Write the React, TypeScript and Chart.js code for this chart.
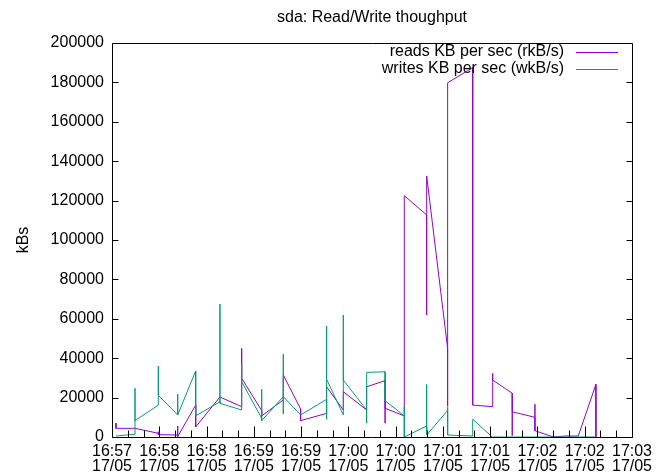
import { useEffect, useRef } from "react";
import { Chart, registerables } from "chart.js";

Chart.register(...registerables);

const TITLE = "sda: Read/Write thoughput";
const Y_TITLE = "kBs";
const READ_LABEL = "reads KB per sec (rkB/s)";
const WRITE_LABEL = "writes KB per sec (wkB/s)";
const READ_COLOR = "#9400d3";
const WRITE_COLOR = "#009e73";
const FONT = '"Liberation Sans", Arial, sans-serif';

// x axis: seconds from the first major tick, major tick every 30 s
const X_MAX = 330;
const timeLabels = ["16:57", "16:58", "16:58", "16:59", "16:59", "17:00", "17:00", "17:01", "17:01", "17:02", "17:02", "17:03"];
const dateLabels = ["17/05", "17/05", "17/05", "17/05", "17/05", "17/05", "17/05", "17/05", "17/05", "17/05", "17/05", "17/05"];
const Y_MAX = 200000;
const Y_STEP = 20000;

const readSeconds = [
  2.5, 2.5, 14.6, 29.4, 29.4, 29.4, 41.7, 41.7, 41.7, 53.1, 53.1, 68.5, 82.3, 82.3, 82.3,
  95.0, 95.0, 108.7, 108.7, 119.7, 119.7, 136.2, 136.2, 146.8, 146.8, 161.6, 161.6,
  173.3, 173.3, 173.3, 185.5, 185.5, 199.7, 199.7, 199.7, 213.0, 213.0, 213.0, 228.9, 228.9,
  241.6, 241.6, 241.6, 254.0, 254.0, 254.0, 268.4, 268.4, 268.4, 280.1, 288.1, 295.9, 307.1, 307.1,
];
const readValues = [
  7000, 4400, 4400, 1900, 2700, 1200, 1000, 5600, 200, 16200, 5100, 20300, 15400, 45000, 29800,
  13400, 10700, 18800, 31500, 14200, 8300, 12000, 25500, 13700, 23000, 13700, 25500,
  28600, 7000, 14600, 10700, 122500, 112700, 61900, 132500, 45000, 15700, 179800, 187500, 16200,
  15400, 32300, 28900, 22200, 700, 12800, 10000, 16600, 3200, 0, 500, 500, 26700, 0,
];

const writeSeconds = [
  2.5, 14.6, 14.6, 14.6, 29.4, 29.4, 29.4, 41.7, 41.7, 41.7, 53.1, 53.1, 68.5, 68.5, 68.5,
  82.3, 82.3, 82.3, 95.0, 95.0, 95.0, 108.7, 108.7, 108.7, 108.7, 119.7, 136.2, 136.2, 136.2, 136.2,
  146.8, 146.8, 146.8, 161.6, 161.6, 161.6, 173.3, 173.3, 185.5, 185.5, 185.5, 199.7, 199.7, 199.7,
  213.0, 213.0, 213.0, 228.9, 228.9, 241.4, 307.1,
];
const writeValues = [
  500, 1400, 24700, 8300, 16200, 36000, 21200, 11200, 21800, 11200, 33500, 10700, 17900, 67500, 17100,
  13700, 37400, 28100, 9500, 24200, 8300, 20500, 42100, 11700, 20500, 11200, 19100, 56300, 9000, 29300,
  11200, 61900, 28900, 13700, 7000, 32800, 33100, 18400, 10700, 15400, 0, 5600, 26700, 1000,
  13500, 15400, 1000, 500, 9000, 0, 0,
];

const decor = {
  id: "gnuplotDecor",
  afterDatasetsDraw(chart: any) {
    const { ctx, chartArea: a, scales } = chart;
    const xs = scales.x;
    const ys = scales.y;
    ctx.save();
    ctx.strokeStyle = "#000";
    ctx.lineWidth = 1;
    const L = Math.round(a.left) + 0.5;
    const R = Math.round(a.right) + 0.5;
    const T = Math.round(a.top) + 0.5;
    const B = Math.round(a.bottom) + 0.5;
    ctx.beginPath();
    ctx.rect(L, T, R - L, B - T);
    for (let s = 0; s <= X_MAX; s += 10) {
      const px = Math.round(xs.getPixelForValue(s)) + 0.5;
      const len = s % 30 === 0 ? 11 : 7;
      ctx.moveTo(px, B);
      ctx.lineTo(px, B - len);
    }
    for (let v = 0; v <= Y_MAX; v += Y_STEP) {
      const py = Math.round(ys.getPixelForValue(v)) + 0.5;
      ctx.moveTo(L, py);
      ctx.lineTo(L + 6, py);
      ctx.moveTo(R, py);
      ctx.lineTo(R - 6, py);
    }
    ctx.stroke();
    ctx.restore();
  },
  afterDraw(chart: any) {
    const { ctx, chartArea: a } = chart;
    ctx.save();
    ctx.fillStyle = "#000";
    ctx.font = `16px ${FONT}`;
    ctx.textBaseline = "middle";
    ctx.textAlign = "center";
    ctx.fillText(TITLE, (a.left + a.right) / 2, 18);
    ctx.save();
    ctx.translate(24, (a.top + a.bottom) / 2);
    ctx.rotate(-Math.PI / 2);
    ctx.fillText(Y_TITLE, 0, 0);
    ctx.restore();
    const rows = [
      { label: READ_LABEL, color: READ_COLOR, y: a.top + 9 },
      { label: WRITE_LABEL, color: WRITE_COLOR, y: a.top + 26 },
    ];
    ctx.textAlign = "right";
    for (const r of rows) {
      ctx.fillStyle = "#000";
      ctx.fillText(r.label, a.right - 68, r.y);
      ctx.beginPath();
      ctx.strokeStyle = r.color;
      ctx.lineWidth = 1;
      ctx.moveTo(a.right - 56, Math.round(r.y) + 0.5);
      ctx.lineTo(a.right - 14, Math.round(r.y) + 0.5);
      ctx.stroke();
    }
    ctx.restore();
  },
};

export default function App() {
  const ref = useRef<HTMLCanvasElement | null>(null);
  useEffect(() => {
    document.body.style.margin = "0";
    if (!ref.current) return;
    const chart = new Chart(ref.current, {
      type: "line",
      data: {
        datasets: [
          {
            label: READ_LABEL,
            data: readSeconds.map((s, i) => ({ x: s, y: readValues[i] })),
            borderColor: READ_COLOR,
            backgroundColor: READ_COLOR,
            borderWidth: 1,
            pointRadius: 0,
            tension: 0,
            fill: false,
            clip: 6,
            order: 1,
          },
          {
            label: WRITE_LABEL,
            data: writeSeconds.map((s, i) => ({ x: s, y: writeValues[i] })),
            borderColor: WRITE_COLOR,
            backgroundColor: WRITE_COLOR,
            borderWidth: 1,
            pointRadius: 0,
            tension: 0,
            fill: false,
            clip: 6,
            order: 0,
          },
        ],
      },
      options: {
        animation: false,
        responsive: true,
        maintainAspectRatio: false,
        layout: { padding: { top: 43, right: 32, left: 0, bottom: 0 } },
        plugins: {
          legend: { display: false },
          title: { display: false },
          tooltip: { enabled: false },
        },
        events: [],
        scales: {
          x: {
            type: "linear",
            min: 0,
            max: X_MAX,
            grid: { display: false, drawTicks: false },
            border: { display: false },
            ticks: {
              stepSize: 10,
              autoSkip: false,
              maxRotation: 0,
              minRotation: 0,
              padding: 7,
              color: "#000",
              font: { size: 16, family: FONT, lineHeight: 0.95 },
              callback: (v: any) => {
                const n = Math.round(Number(v));
                if (n % 30 !== 0) return "";
                const i = n / 30;
                return [timeLabels[i], dateLabels[i]];
              },
            },
            afterFit: (scale: any) => {
              scale.height = 38;
              scale.paddingLeft = 0;
              scale.paddingRight = 0;
            },
          },
          y: {
            type: "linear",
            min: 0,
            max: Y_MAX,
            grid: { display: false, drawTicks: false },
            border: { display: false },
            ticks: {
              stepSize: Y_STEP,
              padding: 8,
              color: "#000",
              font: { size: 16, family: FONT },
              callback: (v: any) => String(v),
            },
            afterFit: (scale: any) => {
              scale.width = 112;
            },
          },
        },
      },
      plugins: [decor],
    });
    return () => chart.destroy();
  }, []);
  return (
    <div style={{ width: 664, height: 475, position: "relative" }}>
      <canvas ref={ref} />
    </div>
  );
}
